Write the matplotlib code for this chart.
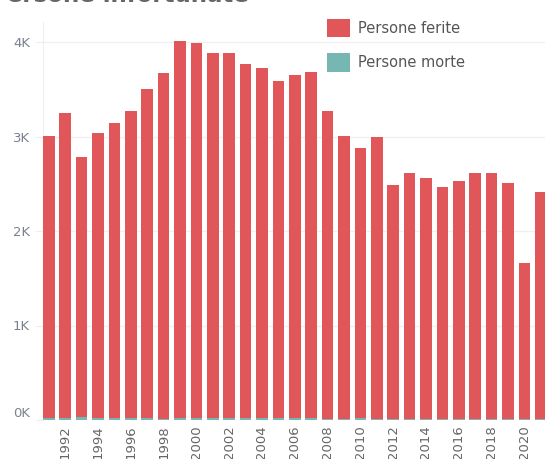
import matplotlib.pyplot as plt
from matplotlib.ticker import FuncFormatter

# Persone infortunate per anno (ferite + morte)
years = list(range(1991, 2022))
ferite = [2985, 3220, 2750, 3012, 3125, 3255, 3475, 3660, 3995, 3975, 3868, 3868, 3745, 3710,
          3565, 3635, 3660, 3255, 2990, 2858, 2983, 2475, 2598, 2548, 2458, 2516, 2600, 2600,
          2495, 1648, 2406]
morte = [25, 25, 28, 22, 18, 18, 25, 15, 18, 18, 18, 18, 22, 18,
         18, 20, 18, 15, 12, 20, 15, 12, 12, 10, 11, 10, 10, 10,
         10, 10, 10]
series_labels = ['Persone ferite', 'Persone morte']
col_ferite = '#E15759'
col_morte = '#76B7B2'

W, H = 545, 459
fig = plt.figure(figsize=(W / 100, H / 100), dpi=100)

# axes geometry in pixels
ax_left, ax_right = 42.5, 600
ax_top, ax_base = 22, 420
ax = fig.add_axes([ax_left / W, 1 - ax_base / H, (ax_right - ax_left) / W, (ax_base - ax_top) / H])

step = 16.4
first_center = 48.8
x = list(range(len(years)))
ax.set_xlim(-(first_center - ax_left) / step, (ax_right - first_center) / step)
ax.set_ylim(0, (ax_base - ax_top) / 94.5 * 1000)

b1 = ax.bar(x, morte, width=0.71, color=col_morte, zorder=3)
b2 = ax.bar(x, ferite, bottom=morte, width=0.71, color=col_ferite, zorder=3)

ax.set_yticks([0, 1000, 2000, 3000, 4000])
ax.yaxis.set_major_formatter(FuncFormatter(lambda v, p: f"{int(v / 1000)}K"))
ax.grid(axis='y', color='#f0f0f0', linewidth=1, zorder=0)
ax.tick_params(axis='y', length=6, color='#eeeeee', labelsize=9.5, labelcolor='#7a8290', pad=3)
ax.get_yticklabels()[0].set_va('bottom')

ax.set_xticks(x[1::2])
ax.set_xticklabels([str(y) for y in years[1::2]], rotation=90, va='top')
ax.tick_params(axis='x', length=0, labelsize=9.5, labelcolor='#666666', pad=4)

for s in ['top', 'right', 'bottom']:
    ax.spines[s].set_visible(False)
ax.spines['left'].set_color('#eeeeee')

leg = fig.legend([b2, b1], series_labels, loc='upper left', bbox_to_anchor=(314 / W, 1 - 6 / H),
                 frameon=False, fontsize=10.5, labelcolor='#555555', handlelength=1.55,
                 handleheight=1.55, handletextpad=0.6, labelspacing=1.1)

# title cut by the top edge of the picture
fig.text(-10 / W, 1 - 2 / H, 'Persone infortunate', fontsize=16.5, fontweight='bold',
         color='#666666', va='baseline', ha='left')

fig.savefig('out.png', dpi=100)
